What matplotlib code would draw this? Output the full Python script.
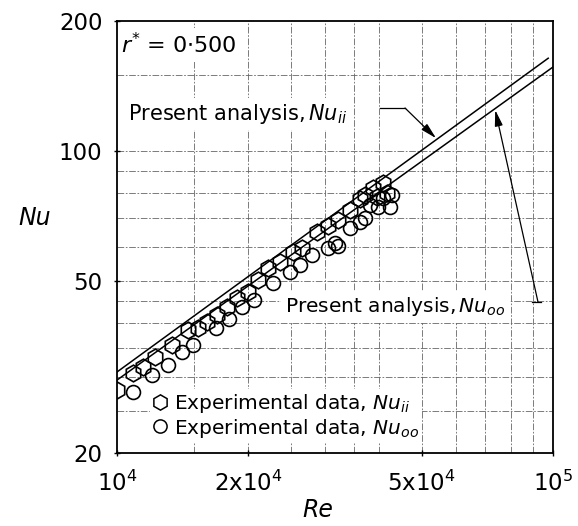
import numpy as np
import matplotlib
matplotlib.use("Agg")
import matplotlib.pyplot as plt
from matplotlib.lines import Line2D

# Experimental data, Nu_ii (hexagons)
re_ii = [1.00e4, 1.088e4, 1.147e4, 1.222e4, 1.337e4, 1.455e4, 1.533e4, 1.608e4,
         1.695e4, 1.788e4, 1.885e4, 1.998e4, 2.106e4, 2.220e4, 2.365e4, 2.533e4,
         2.657e4, 2.875e4, 3.048e4, 3.214e4, 3.423e4, 3.608e4, 3.705e4, 3.865e4,
         4.074e4, 4.16e4, 3.95e4]
nu_ii = [28.0, 30.6, 31.6, 33.4, 35.6, 38.5, 38.9, 40.2,
         41.7, 43.6, 45.7, 47.2, 50.3, 53.6, 55.4, 58.4,
         59.7, 65.0, 67.1, 69.2, 73.0, 77.5, 79.1, 82.1,
         84.3, 80.0, 78.3]

# Experimental data, Nu_oo (circles)
re_oo = [1.088e4, 1.203e4, 1.309e4, 1.409e4, 1.494e4, 1.687e4, 1.806e4, 1.935e4,
         2.062e4, 2.278e4, 2.493e4, 2.628e4, 2.80e4, 3.048e4, 3.162e4, 3.214e4,
         3.423e4, 3.608e4, 3.705e4, 3.803e4, 3.97e4, 4.074e4, 4.27e4, 4.23e4]
nu_oo = [27.7, 30.3, 32.0, 34.3, 35.6, 38.9, 40.9, 43.6,
         45.2, 49.5, 52.5, 54.5, 57.5, 59.7, 61.3, 60.3,
         66.4, 68.5, 70.0, 75.0, 74.2, 77.8, 79.1, 74.2]

# Present analysis (straight lines on log-log)
re_line_ii = [1.0e4, 9.75e4]
nu_line_ii = [30.8, 164.0]
re_line_oo = [1.0e4, 1.0e5]
nu_line_oo = [29.5, 156.5]

x_ticks = [1e4, 2e4, 5e4, 1e5]
x_ticklabels = [r"10$^4$", r"2x10$^4$", r"5x10$^4$", r"10$^5$"]
y_ticks = [20, 50, 100, 200]
y_ticklabels = ["20", "50", "100", "200"]
x_grid = [1.5e4, 2e4, 2.5e4, 3e4, 3.5e4, 4e4, 5e4, 6e4, 7e4, 8e4, 9e4]
y_grid = [25, 30, 35, 40, 45, 50, 60, 70, 80, 90, 100, 150]

W, H = 578, 526
fig = plt.figure(figsize=(W / 100, H / 100), dpi=100)
L, R, B, T = 117, 553, 453, 21
ax = fig.add_axes([L / W, 1 - B / H, (R - L) / W, (B - T) / H])
ax.set_xscale("log")
ax.set_yscale("log")
ax.set_xlim(1e4, 1e5)
ax.set_ylim(20, 200)


def fx(px):
    return (px - L) / (R - L)


def fy(py):
    return (B - py) / (B - T)


# grid
for g in x_grid:
    ax.axvline(g, color="0.4", lw=0.6, ls=(0, (8, 2, 2, 2)), zorder=0)
for g in y_grid:
    ax.axhline(g, color="0.4", lw=0.6, ls=(0, (8, 2, 2, 2)), zorder=0)

ax.set_xticks(x_ticks)
ax.set_xticklabels(x_ticklabels)
ax.set_yticks(y_ticks)
ax.set_yticklabels(y_ticklabels)
ax.xaxis.set_minor_locator(matplotlib.ticker.NullLocator())
ax.yaxis.set_minor_locator(matplotlib.ticker.NullLocator())
ax.tick_params(which="major", direction="inout", length=5, width=1,
               labelsize=16.5, pad=8, color="black")
ax.tick_params(axis="x", pad=10)
for s in ax.spines.values():
    s.set_linewidth(1.3)

# analysis lines
ax.plot(re_line_ii, nu_line_ii, color="black", lw=1.1, zorder=3)
ax.plot(re_line_oo, nu_line_oo, color="black", lw=1.1, zorder=3)

# data markers
ax.plot(re_ii, nu_ii, ls="none", marker="h", ms=12, mfc="none",
        mec="black", mew=1.2, zorder=4)
ax.plot(re_oo, nu_oo, ls="none", marker="o", ms=10, mfc="none",
        mec="black", mew=1.2, zorder=4)

box = dict(facecolor="white", edgecolor="none", pad=3)

ax.text(fx(121), fy(45), r"$r^{*}$ = 0$\cdot$500", fontsize=16,
        va="center", ha="left", transform=ax.transAxes, bbox=box, zorder=2)

ax.text(fx(128), fy(114), r"Present analysis,$\,Nu_{ii}$", fontsize=15,
        va="center", ha="left", transform=ax.transAxes, bbox=box, zorder=2)
ax.text(fx(285), fy(307), r"Present analysis,$\,Nu_{oo}$", fontsize=14.5,
        va="center", ha="left", transform=ax.transAxes, bbox=box, zorder=2)

# leader lines and arrows
ax.plot([fx(380), fx(405)], [fy(108), fy(108)], color="black", lw=0.9,
        transform=ax.transAxes)
re_a = 5.42e4
nu_a = nu_line_ii[0] * (re_a / re_line_ii[0]) ** (
    np.log10(nu_line_ii[1] / nu_line_ii[0]) / np.log10(re_line_ii[1] / re_line_ii[0]))
ax.annotate("", xy=(re_a, nu_a), xycoords="data",
            xytext=(fx(405), fy(108)), textcoords="axes fraction",
            arrowprops=dict(arrowstyle="-|>,head_length=0.8,head_width=0.2",
                            color="black", lw=0.9,
                            mutation_scale=12, shrinkA=0, shrinkB=1))
ax.plot([fx(532), fx(541)], [fy(302), fy(302)], color="black", lw=0.9,
        transform=ax.transAxes)
re_b = 7.36e4
nu_b = nu_line_oo[0] * (re_b / re_line_oo[0]) ** (
    np.log10(nu_line_oo[1] / nu_line_oo[0]) / np.log10(re_line_oo[1] / re_line_oo[0]))
ax.annotate("", xy=(re_b, nu_b), xycoords="data",
            xytext=(fx(538), fy(302)), textcoords="axes fraction",
            arrowprops=dict(arrowstyle="-|>,head_length=0.8,head_width=0.2",
                            color="black", lw=0.9,
                            mutation_scale=12, shrinkA=0, shrinkB=1))

# legend
handles = [
    Line2D([], [], ls="none", marker="h", ms=11, mfc="none", mec="black", mew=1.1),
    Line2D([], [], ls="none", marker="o", ms=9.5, mfc="none", mec="black", mew=1.1),
]
labels = [r"Experimental data, $Nu_{ii}$", r"Experimental data, $Nu_{oo}$"]
leg = ax.legend(handles, labels, loc="center left",
                bbox_to_anchor=(fx(150), fy(416)), frameon=True,
                fontsize=14.5, handlelength=0.7, handletextpad=0.35,
                labelspacing=0.05, borderpad=0.15, borderaxespad=0)
leg.get_frame().set_edgecolor("none")
leg.get_frame().set_facecolor("white")
leg.get_frame().set_alpha(1)
leg.set_zorder(2)

fig.text(35 / W, 1 - 218 / H, "Nu", fontsize=17, style="italic",
         ha="center", va="center")
fig.text(318 / W, 1 - 510 / H, "Re", fontsize=17, style="italic",
         ha="center", va="center")

fig.savefig("out.png", dpi=100)
